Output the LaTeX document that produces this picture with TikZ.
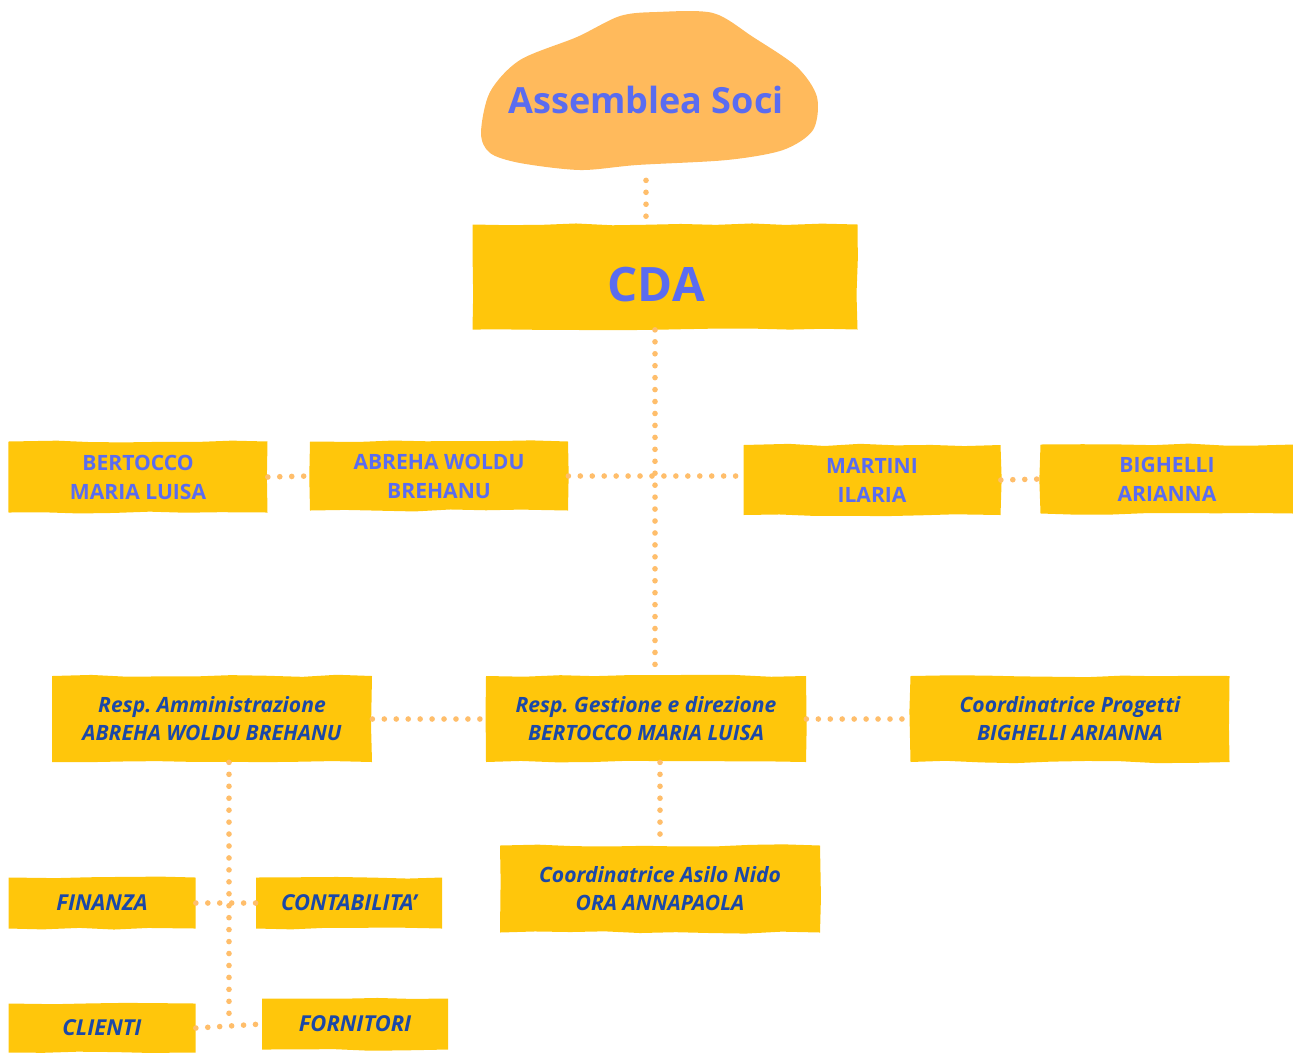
\documentclass[tikz,border=0pt]{standalone}
\usepackage{fontspec}
\setmainfont{Open Sans}
\usetikzlibrary{decorations.pathmorphing}
\frenchspacing

\definecolor{boxyellow}{HTML}{FFC60B}
\definecolor{cloudorange}{HTML}{FFBA5C}
\definecolor{nameblue}{HTML}{5A6CF0}
\definecolor{roleblue}{HTML}{1B48A8}
\definecolor{dotorange}{HTML}{FFBE6B}

\tikzset{
  brush/.style={fill=boxyellow, decorate,
    decoration={random steps, segment length=20pt, amplitude=0.7pt},
    inner sep=0pt, align=center},
  boxsize/.style 2 args={minimum width=#1*0.02cm, minimum height=#2*0.02cm},
  namebox/.style={brush, text=nameblue, font=\bfseries\fontsize{12}{16.5}\selectfont},
  rolebox/.style={brush, text=roleblue, font=\bfseries\itshape\fontsize{12}{16}\selectfont},
  unitbox/.style={brush, text=roleblue, font=\bfseries\itshape\fontsize{12.5}{15}\selectfont},
  dots/.style={draw=dotorange, line width=3.2pt, line cap=round,
    dash pattern=on 0pt off 6.8pt}
}

\begin{document}
\begin{tikzpicture}[x=0.02cm, y=-0.02cm]
  \pgfmathsetseed{11}
  \useasboundingbox (0,0) rectangle (1293,1052);

  % assemblea
  \fill[cloudorange] plot[smooth cycle] coordinates {
    (481,133) (490,92) (520,60) (577,37) (620,16) (657,12) (713,13)
    (753,37) (797,67) (817,97) (813,130) (783,150) (727,160)
    (637,165) (580,170) (520,163) (490,153)};
  \node[boxsize={338}{160}, inner sep=0pt, text=nameblue,
    font=\bfseries\fontsize{20.5}{24}\selectfont] (soci) at (646,100) {Assemblea Soci};

  % consiglio
  \node[brush, boxsize={385}{105}, text=nameblue,
    font=\bfseries\fontsize{27}{30}\selectfont] (cda) at (665,277) {\rule{0pt}{28.4pt}CDA\hspace*{10pt}};

  % consiglieri
  \node[namebox, boxsize={259}{71}] (bertocco) at (138,477) {BERTOCCO\\MARIA LUISA};
  \node[namebox, boxsize={258}{69}] (abreha) at (439,476) {ABREHA WOLDU\\BREHANU};
  \node[namebox, boxsize={257}{70}] (martini) at (872,480) {MARTINI\\ILARIA};
  \node[namebox, boxsize={253}{69}] (bighelli) at (1167,479) {BIGHELLI\\ARIANNA};

  % responsabili
  \node[rolebox, boxsize={320}{86}] (ramm) at (212,719) {Resp. Amministrazione\\ABREHA WOLDU BREHANU};
  \node[rolebox, boxsize={320}{86}] (rgest) at (646,719) {Resp. Gestione e direzione\\BERTOCCO MARIA LUISA};
  \node[rolebox, boxsize={319}{86}] (cprog) at (1070,719) {Coordinatrice Progetti\\BIGHELLI ARIANNA};
  \node[rolebox, boxsize={320}{87}] (casilo) at (660,889) {Coordinatrice Asilo Nido\\ORA ANNAPAOLA};

  % uffici
  \node[unitbox, boxsize={187}{51}] (finanza) at (102,903) {FINANZA};
  \node[unitbox, boxsize={186}{51}] (contab) at (349,903) {CONTABILITA'};
  \node[unitbox, boxsize={187}{49}] (clienti) at (102,1028) {CLIENTI};
  \node[unitbox, boxsize={186}{51}] (fornitori) at (355,1024) {FORNITORI};

  % collegamenti
  \coordinate (trunk) at (655,0);
  \coordinate (branch) at (229,0);
  \draw[dots] (soci.south) -- (soci.south |- cda.north);
  \draw[dots] (trunk |- cda.south) -- (trunk |- rgest.north);
  \draw[dots] (abreha.east) -- (abreha.east -| martini.west);
  \draw[dots] (bertocco.east) -- (abreha.west);
  \draw[dots] (martini.east) -- (bighelli.west);
  \draw[dots] (ramm.east) -- (rgest.west);
  \draw[dots] (rgest.east) -- (cprog.west);
  \draw[dots] (casilo.north |- rgest.south) -- (casilo.north);
  \draw[dots] (branch |- ramm.south) -- (branch |- fornitori.west);
  \draw[dots] (finanza.east) -- (contab.west);
  \draw[dots] (clienti.east) -- (fornitori.west);
\end{tikzpicture}
\end{document}
